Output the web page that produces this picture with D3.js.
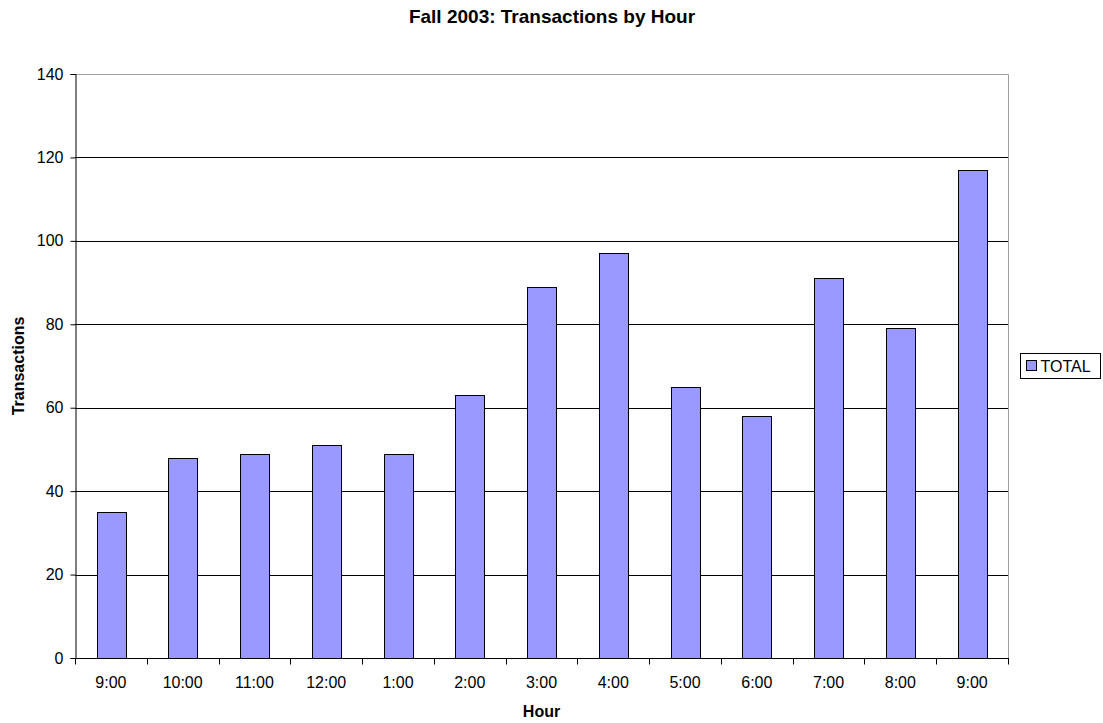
<!DOCTYPE html>
<html>
<head>
  <meta charset="utf-8">
  <script src="https://cdn.jsdelivr.net/npm/d3@7"></script>
  <style>
    body { margin: 0; background: #fff; }
    text { font-family: Arial, "Liberation Sans", sans-serif; fill: #000; }
  </style>
</head>
<body>
  <script type="text/javascript">
      "use strict";

      // chart data
      var hours = ["9:00", "10:00", "11:00", "12:00", "1:00", "2:00", "3:00",
                   "4:00", "5:00", "6:00", "7:00", "8:00", "9:00 "];
      var totals = [35, 48, 49, 51, 49, 63, 89, 97, 65, 58, 91, 79, 117];
      var yTicks = [0, 20, 40, 60, 80, 100, 120, 140];
      var seriesName = "TOTAL";

      var width = 1103,
          height = 723,
          plot = {left: 75, right: 1008, top: 74, bottom: 658};

      var svg = d3.select("body")
        .append("svg")
          .attr("width", width)
          .attr("height", height);

      var x = d3.scaleBand()
        .domain(hours)
        .range([plot.left, plot.right])
        .paddingInner(0.6)
        .paddingOuter(0.3);

      var xEdges = d3.scaleBand()
        .domain(hours)
        .range([plot.left, plot.right]);

      var y = d3.scaleLinear()
        .domain([0, 140])
        .range([plot.bottom, plot.top]);

      // gridlines
      svg.append("g")
        .selectAll("line")
        .data(yTicks.filter(function (d) { return d > 0 && d < 140; }))
        .enter()
        .append("line")
          .attr("x1", plot.left)
          .attr("x2", plot.right)
          .attr("y1", function (d) { return Math.round(y(d)) + 0.5; })
          .attr("y2", function (d) { return Math.round(y(d)) + 0.5; })
          .attr("stroke", "#000")
          .attr("stroke-width", 1);

      // plot area border (top / right)
      svg.append("path")
        .attr("d", "M" + plot.left + "," + (plot.top + 0.5) +
                   "H" + (plot.right + 0.5) + "V" + plot.bottom)
        .attr("fill", "none")
        .attr("stroke", "#a0a0a0")
        .attr("stroke-width", 1);

      // bars
      svg.append("g")
        .selectAll("rect")
        .data(totals)
        .enter()
        .append("rect")
          .attr("x", function (d, i) { return Math.round(x(hours[i])) + 0.5; })
          .attr("y", function (d) { return Math.round(y(d)) + 0.5; })
          .attr("width", Math.round(x.bandwidth()))
          .attr("height", function (d) { return Math.round(y(0)) - Math.round(y(d)); })
          .attr("fill", "#9999ff")
          .attr("stroke", "#000")
          .attr("stroke-width", 1);

      // y axis
      var yAxis = svg.append("g")
        .attr("transform", "translate(" + (plot.left + 0.5) + ",0)")
        .call(d3.axisLeft(y).tickValues(yTicks).tickSize(5).tickPadding(7));
      yAxis.select(".domain").attr("stroke", "#000");
      yAxis.selectAll(".tick line").attr("stroke", "#000");
      yAxis.selectAll(".tick text")
        .style("font-size", "16px")
        .style("font-family", "Arial, 'Liberation Sans', sans-serif");

      // x axis, ticks between categories
      var xAxisG = svg.append("g")
        .attr("transform", "translate(0," + (Math.round(plot.bottom) + 0.5) + ")");
      xAxisG.append("line")
        .attr("x1", plot.left)
        .attr("x2", plot.right + 1)
        .attr("stroke", "#000");
      xAxisG.selectAll(".xtick")
        .data(hours.concat(["end"]))
        .enter()
        .append("line")
          .attr("class", "xtick")
          .attr("x1", function (d, i) { return Math.round(plot.left + i * xEdges.step()) + 0.5; })
          .attr("x2", function (d, i) { return Math.round(plot.left + i * xEdges.step()) + 0.5; })
          .attr("y1", 0)
          .attr("y2", 6)
          .attr("stroke", "#000");
      xAxisG.selectAll(".xlabel")
        .data(hours)
        .enter()
        .append("text")
          .attr("class", "xlabel")
          .attr("x", function (d) { return xEdges(d) + xEdges.bandwidth() / 2; })
          .attr("y", 29)
          .attr("text-anchor", "middle")
          .style("font-size", "16px")
          .text(function (d) { return d.trim(); });

      // titles
      svg.append("text")
        .attr("x", 552)
        .attr("y", 23)
        .attr("text-anchor", "middle")
        .style("font-size", "19px")
        .style("font-weight", "bold")
        .text("Fall 2003: Transactions by Hour");

      svg.append("text")
        .attr("x", (plot.left + plot.right) / 2)
        .attr("y", 717)
        .attr("text-anchor", "middle")
        .style("font-size", "16px")
        .style("font-weight", "bold")
        .text("Hour");

      svg.append("text")
        .attr("transform", "translate(24," + ((plot.top + plot.bottom) / 2) + ") rotate(-90)")
        .attr("text-anchor", "middle")
        .style("font-size", "16px")
        .style("font-weight", "bold")
        .text("Transactions");

      // legend
      var legend = svg.append("g").attr("transform", "translate(1020.5,353.5)");
      legend.append("rect")
        .attr("width", 80)
        .attr("height", 25)
        .attr("fill", "#fff")
        .attr("stroke", "#000");
      legend.append("rect")
        .attr("x", 6)
        .attr("y", 7)
        .attr("width", 10)
        .attr("height", 10)
        .attr("fill", "#9999ff")
        .attr("stroke", "#000");
      legend.append("text")
        .attr("x", 20)
        .attr("y", 18.5)
        .style("font-size", "16px")
        .text(seriesName);
  </script>
</body>
</html>
